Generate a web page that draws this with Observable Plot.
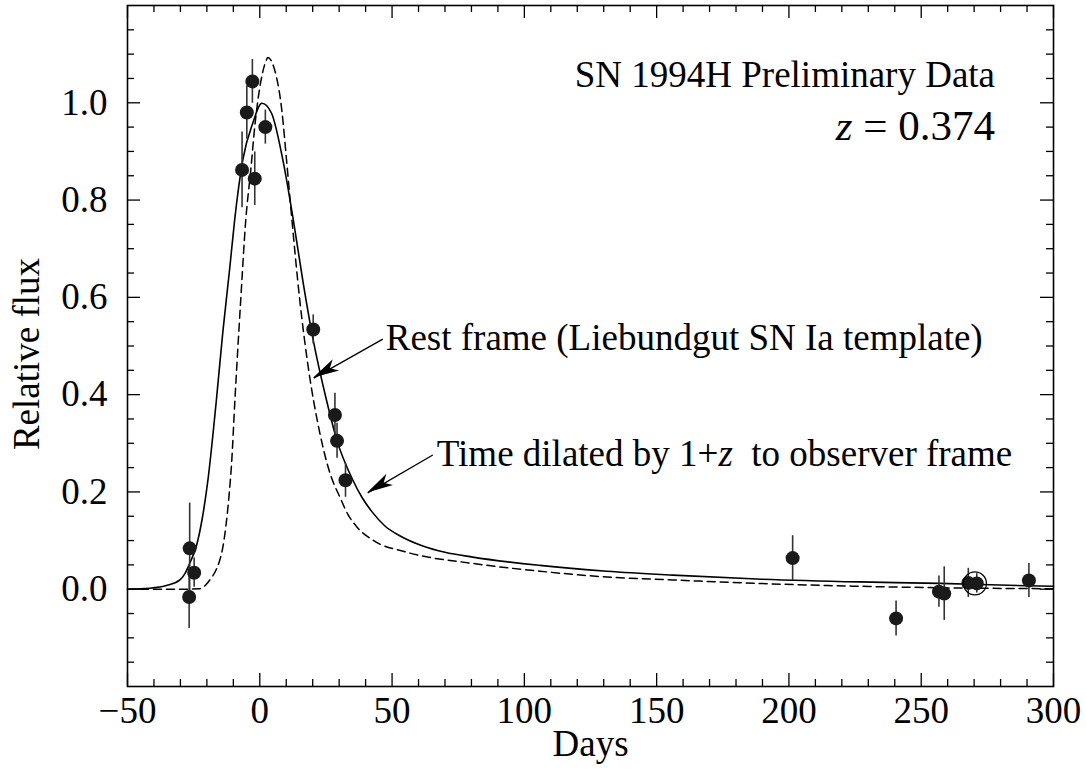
<!DOCTYPE html>
<html><head><meta charset="utf-8">
<script src="https://cdn.jsdelivr.net/npm/d3@7"></script>
<script src="https://cdn.jsdelivr.net/npm/@observablehq/plot@0.6"></script>
<style>body{margin:0;background:#fff} svg{display:block}</style>
</head><body><div id="chart"></div>
<script>
// Observations (days, relative flux, 1-sigma error)
const obsDay  = [-26.5, -24.8, -26.7, -6.7, -4.9, -2.8, -1.9, 2.1, 20.2, 28.4, 29.2, 32.4, 201.4, 240.5, 256.7, 258.7, 267.8, 271.0, 290.7];
const obsFlux = [0.084, 0.034, -0.016, 0.862, 0.980, 1.044, 0.844, 0.950, 0.534, 0.358, 0.305, 0.224, 0.064, -0.060, -0.005, -0.009, 0.013, 0.012, 0.018];
const obsErr  = [0.093, 0.030, 0.065, 0.078, 0.055, 0.045, 0.055, 0.035, 0.030, 0.045, 0.036, 0.035, 0.046, 0.036, 0.032, 0.055, 0.030, 0.020, 0.035];
// circled observation
const circDay = [270.3];
const circFlux = [0.012];

// Time dilated template (solid)
const dilDay  = [-50, -41.6, -35, -30.2, -28.3, -26.5, -23.9, -21.6, -19.7, -16.4, -14.0, -11.3, -9.5, -6.4, -2.6, 0.8, 4.4, 8.7, 12.5, 16.4, 20.2, 25.2, 29.1, 35.2, 38.6, 42.3, 47.3, 52.9, 61.6, 70, 80.5, 105.9, 131.2, 156.1, 187.9, 226.8, 257.1, 290, 300];
const dilFlux = [0, 0.002, 0.008, 0.019, 0.032, 0.053, 0.090, 0.150, 0.220, 0.389, 0.527, 0.663, 0.759, 0.883, 0.959, 0.999, 0.979, 0.883, 0.765, 0.630, 0.512, 0.389, 0.307, 0.224, 0.189, 0.160, 0.130, 0.110, 0.089, 0.076, 0.066, 0.049, 0.037, 0.029, 0.021, 0.015, 0.012, 0.007, 0.006];

// Rest frame template (dashed)
const restDay  = [-50, -30.2, -22.7, -20.2, -18.9, -16.5, -15.1, -13.9, -12.8, -11.5, -10.7, -9.4, -7.2, -5.3, -3.4, -1.9, -0.3, 2.5, 3.0, 6.3, 8.3, 10.1, 11.7, 15.1, 18.3, 22.7, 26.5, 30.3, 33.3, 36.7, 42.7, 55.6, 80.5, 105.9, 131.2, 156.1, 187.9, 226.8, 257.1, 300];
const restFlux = [0, 0, 0.001, 0.010, 0.019, 0.040, 0.060, 0.088, 0.130, 0.200, 0.255, 0.389, 0.595, 0.759, 0.862, 0.951, 1.021, 1.088, 1.093, 1.053, 0.986, 0.883, 0.786, 0.595, 0.457, 0.321, 0.239, 0.189, 0.154, 0.128, 0.101, 0.076, 0.053, 0.037, 0.025, 0.019, 0.012, 0.006, 0.003, 0.001];

// Axis ticks
const xMajor = [-50, 0, 50, 100, 150, 200, 250, 300];
const xMinor = [-40, -30, -20, -10, 10, 20, 30, 40, 60, 70, 80, 90, 110, 120, 130, 140, 160, 170, 180, 190, 210, 220, 230, 240, 260, 270, 280, 290];
const yMajor = [0, 0.2, 0.4, 0.6, 0.8, 1.0];
const yMinor = [-0.15, -0.1, -0.05, 0.05, 0.1, 0.15, 0.25, 0.3, 0.35, 0.45, 0.5, 0.55, 0.65, 0.7, 0.75, 0.85, 0.9, 0.95, 1.05, 1.1, 1.15];

// Annotations
const noteText = ["SN 1994H Preliminary Data", "z = 0.374", "Rest frame (Liebundgut SN Ia template)", "Time dilated by 1+z  to observer frame"];
const noteDay  = [277.9, 277.9, 47.6, 66.9];
const noteFlux = [1.033, 0.924, 0.492, 0.253];
const noteAnchor = ["end", "end", "start", "start"];
const noteSize = [37, 43, 37, 37];
const arrowFromDay = [46.5, 65.4];
const arrowFromFlux = [0.514, 0.276];
const arrowToDay = [20.4, 40.8];
const arrowToFlux = [0.434, 0.198];

const obs = obsDay.map((d, i) => ({day: d, flux: obsFlux[i], err: obsErr[i]}));
const dil = dilDay.map((d, i) => ({day: d, flux: dilFlux[i]}));
const rest = restDay.map((d, i) => ({day: d, flux: restFlux[i]}));
const circ = circDay.map((d, i) => ({day: d, flux: circFlux[i]}));
const notes = noteText.map((t, i) => ({text: t, day: noteDay[i], flux: noteFlux[i], anchor: noteAnchor[i], size: noteSize[i]}));
const arrows = arrowFromDay.map((d, i) => ({x1: d, y1: arrowFromFlux[i], x2: arrowToDay[i], y2: arrowToFlux[i]}));

const W = 1086, H = 769, mL = 127, mR = 33, mT = 5, mB = 83;
const innerW = W - mL - mR, innerH = H - mT - mB;
const font = "'Liberation Serif', 'Times New Roman', serif";
const tickStyle = {stroke: "black", strokeWidth: 1.3};

const chart = Plot.plot({
  width: W, height: H,
  marginLeft: mL, marginRight: mR, marginTop: mT, marginBottom: mB,
  style: {fontFamily: font, background: "white", color: "black", fontSize: "37px"},
  x: {domain: [-50, 300]},
  y: {domain: [-0.2, 1.2]},
  marks: [
    // inward ticks on all four sides
    Plot.ruleX(xMajor, {x: d => d, insetTop: innerH - 13, ...tickStyle}),
    Plot.ruleX(xMinor, {x: d => d, insetTop: innerH - 7, ...tickStyle}),
    Plot.ruleX(xMajor, {x: d => d, insetBottom: innerH - 13, ...tickStyle}),
    Plot.ruleX(xMinor, {x: d => d, insetBottom: innerH - 7, ...tickStyle}),
    Plot.ruleY(yMajor, {y: d => d, insetRight: innerW - 13, ...tickStyle}),
    Plot.ruleY(yMinor, {y: d => d, insetRight: innerW - 7, ...tickStyle}),
    Plot.ruleY(yMajor, {y: d => d, insetLeft: innerW - 13, ...tickStyle}),
    Plot.ruleY(yMinor, {y: d => d, insetLeft: innerW - 7, ...tickStyle}),
    Plot.axisX({ticks: xMajor, tickSize: 0, tickPadding: 10, fontSize: 37, label: null,
      tickFormat: d => d < 0 ? "\u2212" + Math.abs(d) : String(d)}),
    Plot.axisY({ticks: yMajor, tickSize: 0, tickPadding: 20, fontSize: 37, label: null,
      tickFormat: d3.format(".1f")}),
    Plot.text(["Relative flux"], {frameAnchor: "left", rotate: -90, dx: -89, dy: 8, fontSize: 37, lineAnchor: "bottom", textAnchor: "middle"}),
    Plot.text(["Days"], {frameAnchor: "bottom", dy: 69, fontSize: 37, lineAnchor: "bottom", textAnchor: "middle"}),
    // curves
    Plot.line(rest, {x: "day", y: "flux", curve: "monotone-x", stroke: "black", strokeWidth: 1.5, strokeDasharray: "8,5"}),
    Plot.line(dil, {x: "day", y: "flux", curve: "monotone-x", stroke: "black", strokeWidth: 1.6}),
    // observations
    Plot.ruleX(obs, {x: "day", y1: d => d.flux - d.err, y2: d => d.flux + d.err, stroke: "#333", strokeWidth: 1.6}),
    Plot.dot(obs, {x: "day", y: "flux", r: 7, fill: "#1a1a1a"}),
    Plot.dot(circ, {x: "day", y: "flux", r: 11.5, fill: "none", stroke: "black", strokeWidth: 1.2}),
    // annotations
    Plot.link(arrows, {x1: "x1", y1: "y1", x2: "x2", y2: "y2", stroke: "black", strokeWidth: 1.3}),
    ...notes.map(n => Plot.text([n], {x: "day", y: "flux", text: "text", textAnchor: n.anchor, lineAnchor: "bottom", fontSize: n.size})),
    Plot.frame({stroke: "black", strokeWidth: 1.6})
  ]
});

// filled arrowheads using the chart's own scales
const sx = chart.scale("x"), sy = chart.scale("y");
const svg = d3.select(chart.tagName === "svg" ? chart : chart.querySelector("svg"));
arrows.forEach(a => {
  const x1 = sx.apply(a.x1), y1 = sy.apply(a.y1), x2 = sx.apply(a.x2), y2 = sy.apply(a.y2);
  const ang = Math.atan2(y1 - y2, x1 - x2);
  const L = 26, hw = 6.5, notch = 19;
  const ux = Math.cos(ang), uy = Math.sin(ang), px = -uy, py = ux;
  const pts = [
    [x2, y2],
    [x2 + ux * L + px * hw, y2 + uy * L + py * hw],
    [x2 + ux * notch, y2 + uy * notch],
    [x2 + ux * L - px * hw, y2 + uy * L - py * hw]
  ];
  svg.append("path").attr("d", "M" + pts.map(p => p.join(",")).join("L") + "Z").attr("fill", "black");
});

// italic z
svg.selectAll("text").each(function() {
  const t = this.textContent;
  const el = d3.select(this);
  if (t === "z = 0.374") {
    el.text(null);
    el.append("tspan").attr("font-style", "italic").text("z");
    el.append("tspan").text(" = 0.374");
  } else if (t === "Time dilated by 1+z  to observer frame") {
    el.text(null).style("white-space", "pre");
    el.append("tspan").text("Time dilated by 1+");
    el.append("tspan").attr("font-style", "italic").text("z");
    el.append("tspan").text("  to observer frame");
  }
});

document.getElementById("chart").appendChild(chart);
</script>
</body></html>
